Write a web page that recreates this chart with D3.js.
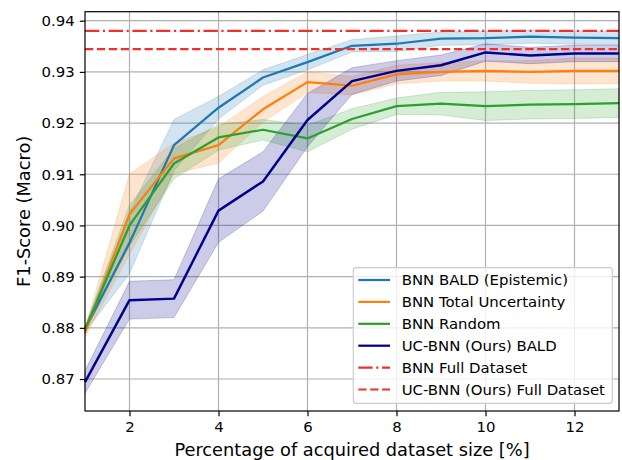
<!DOCTYPE html>
<html><head><meta charset="utf-8">
<script src="https://cdn.jsdelivr.net/npm/d3@7"></script>
<style>body{margin:0;background:#fff}svg{display:block}text{font-family:"DejaVu Sans",sans-serif}</style>
</head><body><svg id="c" width="622" height="460"></svg>
<script>
const xs = [1,2,3,4,5,6,7,8,9,10,11,12,13];
const baldMean = [0.8797,0.8966,0.9157,0.9230,0.9289,0.9319,0.9351,0.9355,0.9365,0.9366,0.9369,0.9367,0.9366];
const baldStd  = [0.0005,0.0060,0.0050,0.0022,0.0015,0.0015,0.0012,0.0015,0.0013,0.0013,0.0013,0.0013,0.0013];
const totalMean = [0.8790,0.9022,0.9131,0.9157,0.9227,0.9280,0.9273,0.9295,0.9300,0.9302,0.9300,0.9302,0.9302];
const totalStd  = [0.0008,0.0078,0.0030,0.0035,0.0025,0.0020,0.0018,0.0018,0.0018,0.0020,0.0022,0.0025,0.0025];
const randMean = [0.8797,0.9000,0.9121,0.9172,0.9187,0.9170,0.9208,0.9233,0.9238,0.9233,0.9236,0.9237,0.9239];
const randStd  = [0.0005,0.0040,0.0030,0.0025,0.0020,0.0026,0.0020,0.0016,0.0022,0.0028,0.0028,0.0028,0.0028];
const ucMean = [0.8694,0.8854,0.8857,0.9029,0.9086,0.9206,0.9282,0.9302,0.9313,0.9338,0.9332,0.9336,0.9336];
const ucStd  = [0.0022,0.0037,0.0037,0.0062,0.0058,0.0052,0.0026,0.0020,0.0020,0.0017,0.0016,0.0016,0.0016];
const bnnFull = 0.9380;
const ucFull = 0.93447;
const xTicks = [2,4,6,8,10,12];
const yTicks = [0.87,0.88,0.89,0.90,0.91,0.92,0.93,0.94];
const labels = ["BNN BALD (Epistemic)","BNN Total Uncertainty","BNN Random","UC-BNN (Ours) BALD","BNN Full Dataset","UC-BNN (Ours) Full Dataset"];

const svg = d3.select("#c");
const L=85, R=619, T=11.7, B=411;
const x = d3.scaleLinear().domain([1,13]).range([L,R]);
const y = d3.scaleLinear().domain([0.86375,0.94176]).range([B,T]);
const LW=2.24, THIN=1.2;

const grid = svg.append("g");
xTicks.forEach(t=>grid.append("line").attr("x1",x(t)).attr("x2",x(t)).attr("y1",T).attr("y2",B).attr("stroke","#b0b0b0").attr("stroke-width",THIN));
yTicks.forEach(t=>grid.append("line").attr("x1",L).attr("x2",R).attr("y1",y(t)).attr("y2",y(t)).attr("stroke","#b0b0b0").attr("stroke-width",THIN));

const series = [
 {m:baldMean,s:baldStd,c:"#1f77b4",w:LW},
 {m:totalMean,s:totalStd,c:"#ff7f0e",w:LW},
 {m:randMean,s:randStd,c:"#2ca02c",w:LW},
 {m:ucMean,s:ucStd,c:"#00008b",w:LW+0.2}
];
const area = d3.area().x(d=>x(d.x)).y0(d=>y(d.m-d.s)).y1(d=>y(d.m+d.s));
const line = d3.line().x(d=>x(d.x)).y(d=>y(d.m));
const plot = svg.append("g");
series.forEach(sr=>{
  const d = xs.map((v,i)=>({x:v,m:sr.m[i],s:sr.s[i]}));
  plot.append("path").attr("d",area(d)).attr("fill",sr.c).attr("fill-opacity",0.2).attr("stroke",sr.c).attr("stroke-opacity",0.2).attr("stroke-width",1);
});
series.forEach(sr=>{
  const d = xs.map((v,i)=>({x:v,m:sr.m[i],s:sr.s[i]}));
  plot.append("path").attr("d",line(d)).attr("fill","none").attr("stroke",sr.c).attr("stroke-width",sr.w).attr("stroke-linejoin","round");
});
const red="#f0302a";
const DASHDOT="14.3,3.6,2.2,3.6", DASHED="8.3,3.6";
plot.append("line").attr("x1",L).attr("x2",R).attr("y1",y(bnnFull)).attr("y2",y(bnnFull)).attr("stroke",red).attr("stroke-width",LW).attr("stroke-dasharray",DASHDOT);
plot.append("line").attr("x1",L).attr("x2",R).attr("y1",y(ucFull)).attr("y2",y(ucFull)).attr("stroke",red).attr("stroke-width",LW).attr("stroke-dasharray",DASHED);

// spines
svg.append("rect").attr("x",L).attr("y",T).attr("width",R-L).attr("height",B-T).attr("fill","none").attr("stroke","#000").attr("stroke-width",THIN);

// ticks
const ax = svg.append("g").attr("transform",`translate(0,${B})`).call(d3.axisBottom(x).tickValues(xTicks).tickFormat(d3.format("d")).tickSize(5.2).tickPadding(5.6));
const ay = svg.append("g").attr("transform",`translate(${L},0)`).call(d3.axisLeft(y).tickValues(yTicks).tickFormat(d3.format(".2f")).tickSize(5.2).tickPadding(5.2));
[ax,ay].forEach(a=>{a.select(".domain").remove();a.selectAll("line").attr("stroke","#000").attr("stroke-width",THIN);a.selectAll("text").attr("font-size",14.9).attr("fill","#000").attr("font-family","DejaVu Sans");});

svg.append("text").attr("x",(L+R)/2).attr("y",455.5).attr("text-anchor","middle").attr("font-size",17.8).text("Percentage of acquired dataset size [%]");
svg.append("text").attr("transform",`translate(29.5,${(T+B)/2}) rotate(-90)`).attr("text-anchor","middle").attr("font-size",17.8).text("F1-Score (Macro)");

// legend
const lg = svg.append("g");
lg.append("rect").attr("x",353.3).attr("y",267.7).attr("width",259).attr("height",135.6).attr("rx",3).attr("fill","#fff").attr("fill-opacity",0.8).attr("stroke","#cccccc").attr("stroke-width",THIN);
const lc=[{c:"#1f77b4",d:null},{c:"#ff7f0e",d:null},{c:"#2ca02c",d:null},{c:"#00008b",d:null},{c:red,d:DASHDOT},{c:red,d:DASHED}];
labels.forEach((t,i)=>{
  const yy = 280 + i*21.9;
  const l = lg.append("line").attr("x1",358.3).attr("x2",390).attr("y1",yy).attr("y2",yy).attr("stroke",lc[i].c).attr("stroke-width",LW);
  if(lc[i].d) l.attr("stroke-dasharray",lc[i].d);
  lg.append("text").attr("x",401.7).attr("y",yy+5.4).attr("font-size",14.9).text(t);
});
</script></body></html>
